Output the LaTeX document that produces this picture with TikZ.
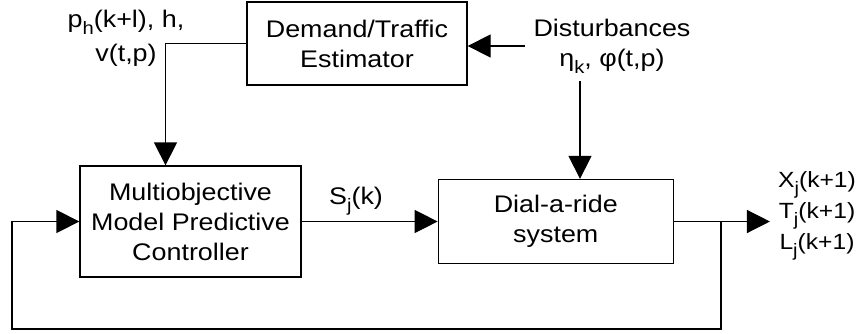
\documentclass[tikz,border=0pt]{standalone}
\usepackage{fontspec}
\setmainfont{Liberation Sans}[FakeStretch=1.12]
\usetikzlibrary{positioning,arrows.meta,calc}
\newcommand\ondr[1]{\raisebox{-7pt}{\fontsize{18}{18}\selectfont #1}}
\tikzset{
	blok/.style={rectangle, draw, line width=1.3pt, align=center, inner sep=0pt},
	etiket/.style={align=center, inner sep=6pt},
	lijn/.style={line width=1.3pt},
	pijl/.style={lijn, -{Triangle[length=23pt,width=23pt]}}
}

\begin{document}
\begin{tikzpicture}[font=\fontsize{24}{30}\selectfont]
			\useasboundingbox (0,0) rectangle (861pt,-333pt);
			
			\node[blok, minimum width=220pt, minimum height=83pt] (est) at (357pt,-43.5pt) {Demand/Traffic\\Estimator};
			\node[blok, minimum width=221pt, minimum height=111pt] (mpc) at (190.5pt,-221.5pt) {Multiobjective\\Model Predictive\\Controller};
			\node[blok, minimum width=235pt, minimum height=84pt, right=136pt of mpc] (dar) {Dial-a-ride\\system};
			
			\node[etiket] (voor) at (126pt,-38pt) {p\ondr{h}(k+l), h,\\[4pt]v(t,p)};
			\node[etiket, inner sep=8pt] (dist) at (612pt,-46pt) {Disturbances\\η\ondr{k}, φ(t,p)};
			
			\coordinate[right=47pt of dar.east] (tak);
			\coordinate[right=96pt of dar.east] (uit);
			\coordinate (onder) at (12pt,-329pt);
			\node[etiket, inner sep=3pt, right=5pt of uit, yshift=6pt, font=\fontsize{22}{31}\selectfont] (xtl) {X\ondr{j}(k+1)\\T\ondr{j}(k+1)\\L\ondr{j}(k+1)};
			
			% verbindingen
			\draw[pijl] (est.west) -| ([xshift=-25pt]mpc.north);
			\draw[pijl] (dist.west) -- (dist.west -| est.east);
			\draw[pijl] ([xshift=-32pt]dist.south) -- ([xshift=-32pt]dist.south |- dar.north);
			\draw[pijl] (mpc.east) -- node[pos=0.4, above=6pt, inner sep=0pt] (sk) {S\ondr{j}(k)} (dar.west);
			\draw[pijl] (dar.east) -- (uit);
			\draw[pijl] (tak) |- (onder) |- (mpc.west);
		\end{tikzpicture}
\end{document}
